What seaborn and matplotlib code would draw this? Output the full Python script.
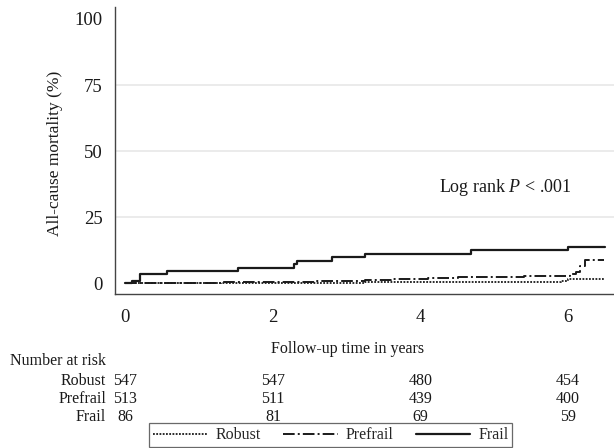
import matplotlib
matplotlib.use('Agg')
import matplotlib.pyplot as plt
import matplotlib.transforms as mtransforms
import seaborn as sns
import pandas as pd

# cumulative mortality (%) step curves
robust_t = [0, 2.3, 3.25, 4.5, 5.9, 6.0, 6.48]
robust_y = [0, 0.2, 0.5, 0.7, 0.9, 1.5, 1.5]

prefrail_t = [0, 0.4, 1.3, 2.3, 2.6, 2.85, 3.25, 3.6, 4.1, 4.5, 5.4, 5.95, 6.02, 6.1, 6.16, 6.23, 6.48]
prefrail_y = [0, 0.2, 0.4, 0.6, 0.8, 1.0, 1.4, 1.8, 2.2, 2.5, 2.7, 2.9, 3.7, 4.5, 6.4, 8.7, 8.7]

frail_t = [0, 0.09, 0.2, 0.56, 1.52, 2.29, 2.33, 2.8, 3.25, 4.68, 6.0, 6.5]
frail_y = [0, 1.0, 3.4, 4.6, 5.9, 7.2, 8.4, 9.8, 11.1, 12.6, 13.8, 13.8]

groups = ['Robust', 'Prefrail', 'Frail']
risk_times = [0, 2, 4, 6]
at_risk = {
    'Robust': [547, 547, 480, 454],
    'Prefrail': [513, 511, 439, 400],
    'Frail': [86, 81, 69, 59],
}
y_ticks = [0, 25, 50, 75, 100]
x_ticks = [0, 2, 4, 6]

sns.set_style('white')
plt.rcParams['font.family'] = ['Liberation Serif', 'DejaVu Serif']
plt.rcParams['mathtext.fontset'] = 'custom'
plt.rcParams['mathtext.rm'] = 'Liberation Serif'
plt.rcParams['mathtext.it'] = 'Liberation Serif:italic'

fig = plt.figure(figsize=(6.14, 4.48), dpi=100)
ax = fig.add_axes([115 / 614, 1 - 294 / 448, 1 - 115 / 614, (294 - 7) / 448])

styles = {
    'Robust': dict(linestyle=(0, (1, 0.8)), linewidth=1.3),
    'Prefrail': dict(linestyle=(0, (6, 1.6, 1, 1.6)), linewidth=1.4),
    'Frail': dict(linestyle='-', linewidth=1.6),
}
curves = {
    'Robust': (robust_t, robust_y),
    'Prefrail': (prefrail_t, prefrail_y),
    'Frail': (frail_t, frail_y),
}

for g in groups:
    t, y = curves[g]
    df = pd.DataFrame({'time': t, 'mort': y})
    sns.lineplot(data=df, x='time', y='mort', ax=ax, color='#1a1a1a',
                 drawstyle='steps-post', estimator=None, label=g, **styles[g])

ax.set_xlim(-0.14, 6.62)
ax.set_ylim(-4.0, 104.5)
ax.set_xticks(x_ticks)
ax.set_yticks(y_ticks)
ax.set_yticklabels([str(v) for v in y_ticks])
for v in [25, 50, 75]:
    ax.axhline(v, color='#e6e6e6', lw=1.1, zorder=0)

sns.despine(ax=ax)
for s in ['left', 'bottom']:
    ax.spines[s].set_color('#444444')
    ax.spines[s].set_linewidth(1.0)
ax.tick_params(axis='both', direction='out', length=5, width=0.9, color='#444444',
               labelsize=13.5, labelcolor='#1a1a1a')
ax.tick_params(axis='x', pad=6)
ax.tick_params(axis='y', pad=4)

ax.set_ylabel('All-cause mortality (%)', fontsize=12.5, color='#1a1a1a')
ax.yaxis.set_label_coords(-0.104, 0.49)
ax.set_xlabel('Follow-up time in years', fontsize=11.5, color='#1a1a1a')
ax.xaxis.set_label_coords(0.467, -0.19)
ax.xaxis.label.set_verticalalignment('center')

ax.text(6.04, 36.4, 'Log rank $\\mathit{P}$ < .001', ha='right', va='center',
        fontsize=13, color='#1a1a1a')

# number at risk table
trans = mtransforms.blended_transform_factory(ax.transData, fig.transFigure)
fig.text(10 / 614, 1 - 361 / 448, 'Number at risk', ha='left', va='center',
         fontsize=11.5, color='#1a1a1a')
row_y = {'Robust': 1 - 381 / 448, 'Prefrail': 1 - 399 / 448, 'Frail': 1 - 417 / 448}
for g in groups:
    fig.text(106 / 614, row_y[g], g, ha='right', va='center', fontsize=11.5, color='#1a1a1a')
    for t, n in zip(risk_times, at_risk[g]):
        ax.text(t, row_y[g], str(n), transform=trans, ha='center', va='center',
                fontsize=11.5, color='#1a1a1a', clip_on=False)

ax.get_legend().remove()
handles, labels = ax.get_legend_handles_labels()
leg = fig.legend(handles, labels, loc='lower center', bbox_to_anchor=(0.539, 0.002),
                 ncol=3, frameon=True, fancybox=False, fontsize=11.5,
                 handlelength=3.4, handletextpad=0.5, columnspacing=1.4,
                 borderpad=0.25, borderaxespad=0)
leg.get_frame().set_edgecolor('#444444')
leg.get_frame().set_linewidth(0.9)

fig.savefig('out.png', dpi=100)
